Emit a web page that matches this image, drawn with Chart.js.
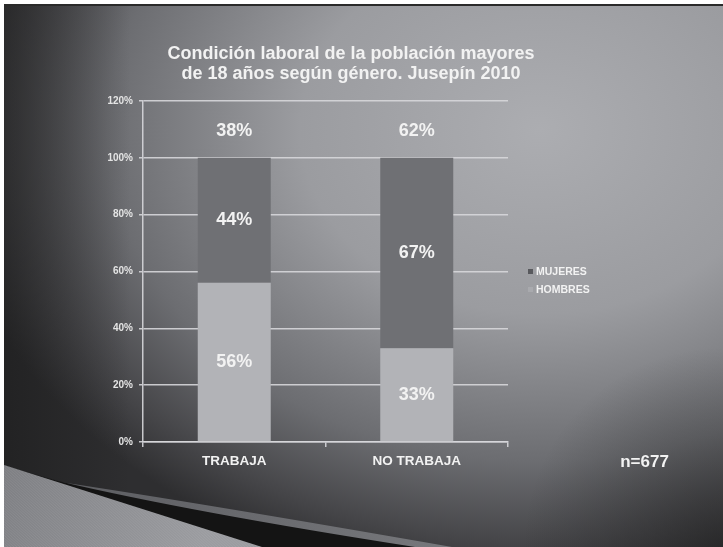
<!DOCTYPE html>
<html>
<head>
<meta charset="utf-8">
<script src="https://cdn.jsdelivr.net/npm/chart.js@4/dist/chart.umd.min.js"></script>
<style>
  html, body { margin: 0; padding: 0; background: #fff; }
</style>
</head>
<body>
<canvas id="chart" width="723" height="547"></canvas>
<script>
// data
const categories = ['TRABAJA', 'NO TRABAJA'];
const hombres = [56, 33];
const mujeres = [44, 67];
const totals = [38, 62];
const yMax = 120;
const yStep = 20;
const titleLines = ['Condición laboral de la población mayores', 'de 18 años según género. Jusepín 2010'];
const sampleNote = 'n=677';

const FONT = "'Liberation Sans', Arial, sans-serif";
const TEXT = '#f2f2f2';
const GRID = 'rgba(215,215,218,0.9)';
const colors = { mujeres: '#6f7074', hombres: '#b2b3b7' };

// slide background, drawn before the chart
const slideBackground = {
    id: 'slideBackground',
    beforeDraw(chart) {
        const ctx = chart.ctx;
        const w = chart.width, h = chart.height;
        ctx.save();
        ctx.fillStyle = '#fff';
        ctx.fillRect(0, 0, w, h);

        // radial light from upper right
        const cx = 540, cy = 130, r = 600, s = 460 / 600;
        ctx.save();
        ctx.beginPath();
        ctx.rect(4, 4, w - 4, h - 4);
        ctx.clip();
        ctx.translate(cx, cy);
        ctx.scale(1, s);
        const g = ctx.createRadialGradient(0, 0, 0, 0, 0, r);
        g.addColorStop(0, '#acadb1');
        g.addColorStop(0.4, '#9b9ca0');
        g.addColorStop(0.72, '#6c6d71');
        g.addColorStop(0.9, '#454548');
        g.addColorStop(1, '#2e2e30');
        ctx.fillStyle = g;
        ctx.fillRect(-cx, -cy / s, w + 10, h / s + 10);
        ctx.restore();

        // darker left edge and bottom-right corner
        const left = ctx.createLinearGradient(4, 0, 130, 0);
        left.addColorStop(0, 'rgba(25,25,25,0.55)');
        left.addColorStop(1, 'rgba(25,25,25,0)');
        ctx.fillStyle = left;
        ctx.fillRect(4, 4, 130, h);
        const corner = ctx.createRadialGradient(w, h, 0, w, h, 200);
        corner.addColorStop(0, 'rgba(25,25,25,0.5)');
        corner.addColorStop(1, 'rgba(25,25,25,0)');
        ctx.fillStyle = corner;
        ctx.fillRect(w - 200, h - 200, 200, 200);

        // top edge line
        ctx.fillStyle = '#2a2a2a';
        ctx.fillRect(4, 4, w - 4, 2);

        // swoosh bottom-left
        const mid = ctx.createLinearGradient(60, 482, 450, 547);
        mid.addColorStop(0, '#5c5d61');
        mid.addColorStop(1, '#77787c');
        ctx.fillStyle = mid;
        ctx.beginPath();
        ctx.moveTo(4, 465);
        ctx.lineTo(60, 482);
        ctx.quadraticCurveTo(200, 503, 452, h);
        ctx.lineTo(4, h);
        ctx.closePath();
        ctx.fill();

        ctx.fillStyle = '#141414';
        ctx.beginPath();
        ctx.moveTo(4, 465);
        ctx.lineTo(58, 481);
        ctx.quadraticCurveTo(190, 512, 415, h);
        ctx.lineTo(4, h);
        ctx.closePath();
        ctx.fill();

        const light = ctx.createLinearGradient(4, 465, 200, 547);
        light.addColorStop(0, '#7e7f83');
        light.addColorStop(1, '#9b9ca0');
        ctx.fillStyle = light;
        ctx.beginPath();
        ctx.moveTo(4, 465);
        ctx.lineTo(262, h);
        ctx.lineTo(4, h);
        ctx.closePath();
        ctx.fill();
        ctx.clip();
        ctx.strokeStyle = 'rgba(255,255,255,0.07)';
        ctx.lineWidth = 1;
        for (let x = -100; x < 300; x += 3) {
            ctx.beginPath();
            ctx.moveTo(x, 465);
            ctx.lineTo(x + 90, h);
            ctx.stroke();
        }
        ctx.restore();
    }
};

// labels, title, legend and note
const slideText = {
    id: 'slideText',
    afterDraw(chart) {
        const ctx = chart.ctx;
        const xs = chart.scales.x, ys = chart.scales.y;
        ctx.save();
        ctx.fillStyle = TEXT;
        ctx.textAlign = 'center';

        ctx.font = 'bold 18px ' + FONT;
        ctx.textBaseline = 'alphabetic';
        ctx.fillText(titleLines[0], 351, 58.5);
        ctx.fillText(titleLines[1], 351, 78.5);

        ctx.textBaseline = 'middle';
        categories.forEach((c, i) => {
            const x = xs.getPixelForValue(i);
            ctx.fillText(hombres[i] + '%', x, ys.getPixelForValue(hombres[i] / 2));
            ctx.fillText(mujeres[i] + '%', x, ys.getPixelForValue(hombres[i] + mujeres[i] / 2));
            ctx.fillText(totals[i] + '%', x, ys.getPixelForValue(hombres[i] + mujeres[i]) - 27);
        });

        ctx.font = 'bold 17px ' + FONT;
        ctx.fillText(sampleNote, 644.5, 462);

        // legend
        ctx.font = 'bold 10.5px ' + FONT;
        ctx.textAlign = 'left';
        const items = [
            { label: 'MUJERES', color: '#58595d', y: 271.5 },
            { label: 'HOMBRES', color: '#a9aaae', y: 289.5 }
        ];
        items.forEach(it => {
            ctx.fillStyle = it.color;
            ctx.fillRect(528, it.y - 2.5, 5, 5);
            ctx.fillStyle = TEXT;
            ctx.fillText(it.label, 536, it.y + 0.5);
        });
        ctx.restore();
    }
};

new Chart(document.getElementById('chart'), {
    type: 'bar',
    data: {
        labels: categories,
        datasets: [
            { label: 'HOMBRES', data: hombres, backgroundColor: colors.hombres },
            { label: 'MUJERES', data: mujeres, backgroundColor: colors.mujeres }
        ]
    },
    options: {
        responsive: false,
        animation: false,
        barPercentage: 0.4,
        categoryPercentage: 1.0,
        layout: { padding: { left: 103, right: 215, top: 101, bottom: 75 } },
        plugins: {
            legend: { display: false },
            title: { display: false },
            tooltip: { enabled: false }
        },
        scales: {
            x: {
                stacked: true,
                afterFit(scale) { scale.height = 30; },
                grid: { drawOnChartArea: false, color: GRID, tickLength: 5, lineWidth: 1.5 },
                border: { color: GRID, width: 1.5 },
                ticks: { color: TEXT, padding: 6, font: { family: FONT, size: 13.5, weight: 'bold' } }
            },
            y: {
                stacked: true,
                min: 0,
                max: yMax,
                afterFit(scale) { scale.width = 40; },
                grid: { color: GRID, tickLength: 4, lineWidth: 1.5 },
                border: { color: GRID, width: 1.5 },
                ticks: {
                    stepSize: yStep,
                    color: '#e4e4e4',
                    padding: 6,
                    font: { family: FONT, size: 10, weight: 'bold' },
                    callback: v => v + '%'
                }
            }
        }
    },
    plugins: [slideBackground, slideText]
});
</script>
</body>
</html>
